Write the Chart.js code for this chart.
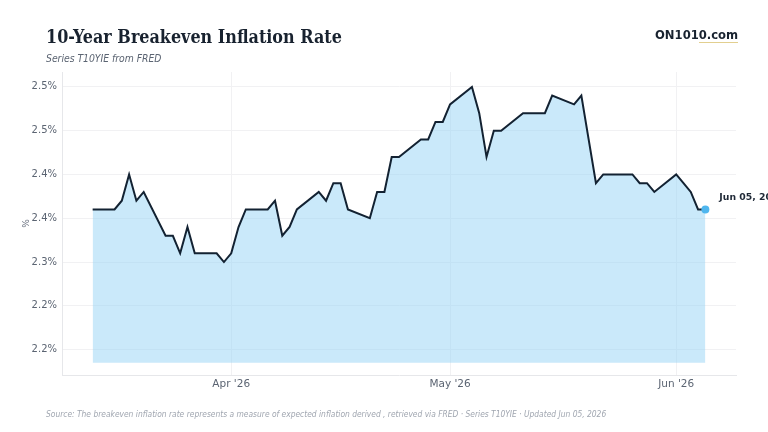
<!DOCTYPE html>
<html>
<head>
<meta charset="utf-8">
<script src="https://cdn.jsdelivr.net/npm/chart.js@4"></script>
<style>
  html, body { margin: 0; padding: 0; background: #fff; }
  #wrap { position: relative; width: 768px; height: 432px; overflow: hidden; }
  #chart { position: absolute; left: 0; top: 0; }
  .title { position: absolute; left: 46px; top: 26px; font: bold 17.8px "DejaVu Serif Condensed", "DejaVu Serif", serif; font-stretch: condensed; color: #18222f; white-space: nowrap; }
  .sub { position: absolute; left: 46px; top: 52px; font: italic 10.3px "DejaVu Sans Condensed", "DejaVu Sans", sans-serif; color: #5b6472; white-space: nowrap; }
  .brand { position: absolute; left: 655px; top: 28px; font: bold 11.6px "DejaVu Sans", sans-serif; color: #18222f; white-space: nowrap; }
  .brand span { border-bottom: 1px solid #e2cf8f; }
  .foot { position: absolute; left: 46px; top: 409px; font: italic 8.4px "DejaVu Sans Condensed", "DejaVu Sans", sans-serif; color: #a0a6b0; white-space: nowrap; }
</style>
</head>
<body>
<div id="wrap">
  <canvas id="chart" width="768" height="432"></canvas>
  <div class="title">10-Year Breakeven Inflation Rate</div>
  <div class="sub">Series T10YIE from FRED</div>
  <div class="brand">ON101<span>0.com</span></div>
  <div class="foot">Source: The breakeven inflation rate represents a measure of expected inflation derived , retrieved via FRED · Series T10YIE · Updated Jun 05, 2026</div>
</div>
<script>
// T10YIE daily readings (business days)
const dates = [
  '2026-03-13', '2026-03-16', '2026-03-17', '2026-03-18', '2026-03-19', '2026-03-20',
  '2026-03-23', '2026-03-24', '2026-03-25', '2026-03-26', '2026-03-27',
  '2026-03-30', '2026-03-31', '2026-04-01', '2026-04-02', '2026-04-03',
  '2026-04-06', '2026-04-07', '2026-04-08', '2026-04-09', '2026-04-10',
  '2026-04-13', '2026-04-14', '2026-04-15', '2026-04-16', '2026-04-17',
  '2026-04-20', '2026-04-21', '2026-04-22', '2026-04-23', '2026-04-24',
  '2026-04-27', '2026-04-28', '2026-04-29', '2026-04-30', '2026-05-01',
  '2026-05-04', '2026-05-05', '2026-05-06', '2026-05-07', '2026-05-08',
  '2026-05-11', '2026-05-12', '2026-05-13', '2026-05-14', '2026-05-15',
  '2026-05-18', '2026-05-19', '2026-05-20', '2026-05-21', '2026-05-22',
  '2026-05-25', '2026-05-26', '2026-05-27', '2026-05-28', '2026-05-29',
  '2026-06-01', '2026-06-02', '2026-06-03', '2026-06-04', '2026-06-05'
];
const rates = [
  2.36, 2.36, 2.37, 2.40, 2.37, 2.38,
  2.33, 2.33, 2.31, 2.34, 2.31,
  2.31, 2.30, 2.31, 2.34, 2.36,
  2.36, 2.37, 2.33, 2.34, 2.36,
  2.38, 2.37, 2.39, 2.39, 2.36,
  2.35, 2.38, 2.38, 2.42, 2.42,
  2.44, 2.44, 2.46, 2.46, 2.48,
  2.50, 2.47, 2.42, 2.45, 2.45,
  2.47, 2.47, 2.47, 2.47, 2.49,
  2.48, 2.49, 2.44, 2.39, 2.40,
  2.40, 2.40, 2.39, 2.39, 2.38,
  2.40, 2.39, 2.38, 2.36, 2.36
];
const xTickDates = ['2026-04-01', '2026-05-01', '2026-06-01'];
const xTickLabels = ["Apr '26", "May '26", "Jun '26"];
const yTickValues = [2.20, 2.25, 2.30, 2.35, 2.40, 2.45, 2.50];
const yTickLabels = ['2.2%', '2.2%', '2.3%', '2.4%', '2.4%', '2.5%', '2.5%'];
const yMin = 2.171, yMax = 2.517;
const fillBase = 2.185;
const endLabel = 'Jun 05, 2026';

function dayNum(s) {
  const [y, m, d] = s.split('-').map(Number);
  return Date.UTC(y, m - 1, d) / 86400000;
}

const points = dates.map((d, i) => ({ x: dayNum(d), y: rates[i] }));
const first = points[0].x, last = points[points.length - 1].x;
const pad = (last - first) * 0.05;
const lastIdx = points.length - 1;

const endLabelPlugin = {
  id: 'endLabel',
  afterDatasetsDraw(chart) {
    const pt = chart.getDatasetMeta(0).data[lastIdx];
    const c = chart.ctx;
    c.save();
    c.font = 'bold 9.3px "DejaVu Sans", sans-serif';
    c.fillStyle = '#1f2937';
    c.textBaseline = 'middle';
    c.fillText(endLabel, pt.x + 14, pt.y - 12);
    c.restore();
  }
};

new Chart(document.getElementById('chart'), {
  type: 'line',
  data: {
    datasets: [{
      data: points,
      borderColor: '#132232',
      borderWidth: 2,
      backgroundColor: 'rgba(150, 212, 245, 0.5)',
      fill: { value: fillBase },
      tension: 0,
      pointRadius: ctx => ctx.dataIndex === lastIdx ? 4 : 0,
      pointBackgroundColor: '#4fb6ee',
      pointBorderWidth: 0,
      clip: false
    }]
  },
  options: {
    responsive: false,
    animation: false,
    layout: { padding: { top: 72, right: 32, bottom: 0, left: 0 } },
    plugins: { legend: { display: false }, tooltip: { enabled: false } },
    scales: {
      x: {
        type: 'linear',
        min: first - pad,
        max: last + pad,
        afterFit: s => { s.height = 57; },
        afterBuildTicks: s => { s.ticks = xTickDates.map(d => ({ value: dayNum(d) })); },
        ticks: {
          padding: 3,
          color: '#5b6472',
          font: { family: 'DejaVu Sans', size: 10.5 },
          callback: (v) => xTickLabels[xTickDates.findIndex(d => dayNum(d) === v)]
        },
        grid: { color: '#f1f1f3', drawTicks: false },
        border: { color: '#e6e7ea' }
      },
      y: {
        min: yMin,
        max: yMax,
        afterFit: s => { s.width = 62; },
        afterBuildTicks: s => { s.ticks = yTickValues.map(v => ({ value: v })); },
        ticks: {
          padding: 5,
          color: '#5b6472',
          font: { family: 'DejaVu Sans', size: 10 },
          callback: (v) => yTickLabels[yTickValues.findIndex(t => Math.abs(t - v) < 1e-6)]
        },
        title: {
          display: true,
          text: '%',
          color: '#6b7280',
          font: { family: 'DejaVu Sans', size: 9 },
          padding: { top: 21 }
        },
        grid: { color: '#f1f1f3', drawTicks: false },
        border: { color: '#e6e7ea' }
      }
    }
  },
  plugins: [endLabelPlugin]
});
</script>
</body>
</html>
